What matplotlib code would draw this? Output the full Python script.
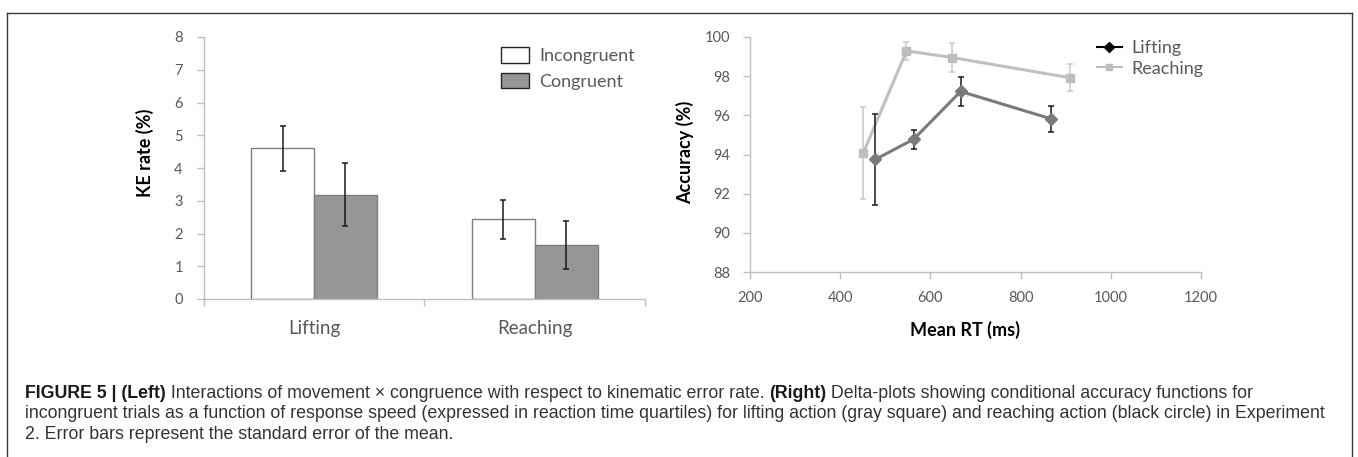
import matplotlib
matplotlib.use('Agg')
import matplotlib.pyplot as plt
from matplotlib.patches import Patch
from matplotlib.lines import Line2D
import numpy as np

# left panel: KE rate by movement x congruence
movements = ['Lifting', 'Reaching']
incongruent = [4.60, 2.43]
incongruent_se = [0.69, 0.59]
congruent = [3.19, 1.64]
congruent_se = [0.95, 0.73]

# right panel: delta plots (RT quartiles)
lift_rt = [478, 563, 667, 868]
lift_acc = [93.75, 94.78, 97.22, 95.82]
lift_se = [2.34, 0.48, 0.76, 0.68]
reach_rt = [451, 547, 649, 909]
reach_acc = [94.07, 99.29, 98.95, 97.92]
reach_se = [2.35, 0.45, 0.75, 0.69]

W, H = 1358, 457
fig = plt.figure(figsize=(W / 100, H / 100), dpi=100)
FONT = 'Lato'
TICKC = '#595959'
AXC = '#bfbfbf'


def px_axes(x0, y0, x1, y1):
    # pixel box (top-left origin) -> figure axes
    return fig.add_axes([x0 / W, 1 - y1 / H, (x1 - x0) / W, (y1 - y0) / H])


def style_axes(ax):
    for s in ['top', 'right']:
        ax.spines[s].set_visible(False)
    for s in ['left', 'bottom']:
        ax.spines[s].set_color(AXC)
        ax.spines[s].set_linewidth(1.0)
    ax.tick_params(colors=AXC, labelcolor=TICKC, length=5, width=1.0)


# ---- left bar chart ----
ax1 = px_axes(203.6, 37, 645, 299)
style_axes(ax1)
x = np.arange(len(movements)) + 0.5
w = 0.285
ax1.bar(x - w / 2, incongruent, w, color='white', edgecolor='#7f7f7f', linewidth=1.0, zorder=2)
ax1.bar(x + w / 2, congruent, w, color='#969696', edgecolor='#7f7f7f', linewidth=1.0, zorder=2)
ax1.errorbar(x - w / 2, incongruent, yerr=incongruent_se, fmt='none', ecolor='#1a1a1a',
             elinewidth=1.1, capsize=2.5, capthick=1.1, zorder=3)
ax1.errorbar(x + w / 2, congruent, yerr=congruent_se, fmt='none', ecolor='#1a1a1a',
             elinewidth=1.1, capsize=2.5, capthick=1.1, zorder=3)
ax1.set_xlim(0, len(movements))
ax1.set_ylim(0, 8)
ax1.set_yticks(range(0, 9))
ax1.set_xticks(range(0, len(movements) + 1))
ax1.set_xticklabels([])
ax1.set_xticks(x, minor=True)
ax1.set_xticklabels(movements, minor=True, fontsize=13.5, family=FONT, color=TICKC)
ax1.tick_params(axis='x', which='minor', length=0, pad=15)
ax1.tick_params(axis='y', pad=10, labelsize=10.5)
for t in ax1.get_yticklabels():
    t.set_family(FONT)
ax1.set_ylabel('KE rate (%)', fontsize=13, fontweight='bold', family=FONT)
ax1.yaxis.set_label_coords(-0.113, 0.557)

leg1 = ax1.legend(handles=[Patch(facecolor='white', edgecolor='#262626', linewidth=1.0, label='Incongruent'),
                           Patch(facecolor='#969696', edgecolor='#262626', linewidth=1.0, label='Congruent')],
                  loc='upper left', bbox_to_anchor=(0.674, 0.96), frameon=False,
                  prop={'family': FONT, 'size': 13}, handlelength=1.55, handleheight=0.95,
                  handletextpad=0.55, labelspacing=0.45, borderpad=0, borderaxespad=0)
for t in leg1.get_texts():
    t.set_color(TICKC)

# ---- right delta plot ----
ax2 = px_axes(750, 37, 1201, 272)
style_axes(ax2)
ax2.errorbar(reach_rt, reach_acc, yerr=reach_se, fmt='none', ecolor='#c8c8c8',
             elinewidth=1.1, capsize=2.5, capthick=1.1, zorder=2)
ax2.plot(reach_rt, reach_acc, color='#c0c0c0', linewidth=2.2, marker='s', markersize=6,
         markerfacecolor='#bdbdbd', markeredgecolor='#bdbdbd', zorder=3)
ax2.errorbar(lift_rt, lift_acc, yerr=lift_se, fmt='none', ecolor='#1a1a1a',
             elinewidth=1.1, capsize=2.5, capthick=1.1, zorder=4)
ax2.plot(lift_rt, lift_acc, color='#7a7a7a', linewidth=2.2, marker='D', markersize=6.5,
         markerfacecolor='#7a7a7a', markeredgecolor='#7a7a7a', zorder=5)
ax2.set_xlim(200, 1200)
ax2.set_ylim(88, 100)
ax2.set_xticks(range(200, 1201, 200))
ax2.set_yticks(range(88, 101, 2))
ax2.tick_params(axis='both', labelsize=10.5)
ax2.tick_params(axis='x', pad=9)
ax2.tick_params(axis='y', pad=9)
for t in ax2.get_xticklabels() + ax2.get_yticklabels():
    t.set_family(FONT)
ax2.set_xlabel('Mean RT (ms)', fontsize=13, fontweight='bold', family=FONT)
ax2.xaxis.set_label_coords(0.477, -0.209)
ax2.set_ylabel('Accuracy (%)', fontsize=13, fontweight='bold', family=FONT)
ax2.yaxis.set_label_coords(-0.124, 0.51)

leg2 = ax2.legend(handles=[Line2D([], [], color='black', linewidth=1.5, marker='D', markersize=5, label='Lifting'),
                           Line2D([], [], color='#bfbfbf', linewidth=1.5, marker='s', markersize=5, label='Reaching')],
                  loc='upper left', bbox_to_anchor=(0.769, 0.986), frameon=False,
                  prop={'family': FONT, 'size': 13}, handlelength=1.4,
                  handletextpad=0.5, labelspacing=0.25, borderpad=0, borderaxespad=0)
for t in leg2.get_texts():
    t.set_color(TICKC)

# ---- frame ----
frame_c = '#3a3a3a'
fig.add_artist(Line2D([7 / W, 1352 / W], [1 - 12.5 / H, 1 - 12.5 / H], color=frame_c, linewidth=1.0))
fig.add_artist(Line2D([7 / W, 7 / W], [1 - 12.5 / H, 0], color=frame_c, linewidth=1.0))
fig.add_artist(Line2D([1352 / W, 1352 / W], [1 - 12.5 / H, 0], color=frame_c, linewidth=1.0))

# ---- caption ----
caption = [
    [('FIGURE 5 | (Left)', 'bold'),
     (' Interactions of movement \u00d7 congruence with respect to kinematic error rate. ', 'normal'),
     ('(Right)', 'bold'),
     (' Delta-plots showing conditional accuracy functions for', 'normal')],
    [('incongruent trials as a function of response speed (expressed in reaction time quartiles) '
      'for lifting action (gray square) and reaching action (black circle) in Experiment', 'normal')],
    [('2. Error bars represent the standard error of the mean.', 'normal')],
]
renderer = fig.canvas.get_renderer()
line_y = [398, 418.5, 439]
for segs, yy in zip(caption, line_y):
    xx = 25
    for txt, wt in segs:
        t = fig.text(xx / W, 1 - yy / H, txt, fontsize=12.8, fontweight=wt, va='baseline', ha='left',
                     family=['Liberation Sans', 'DejaVu Sans'],
                     color='#1a1a1a' if wt == 'bold' else '#333333')
        bb = t.get_window_extent(renderer=renderer)
        xx += bb.width

fig.savefig('out.png', dpi=100)
